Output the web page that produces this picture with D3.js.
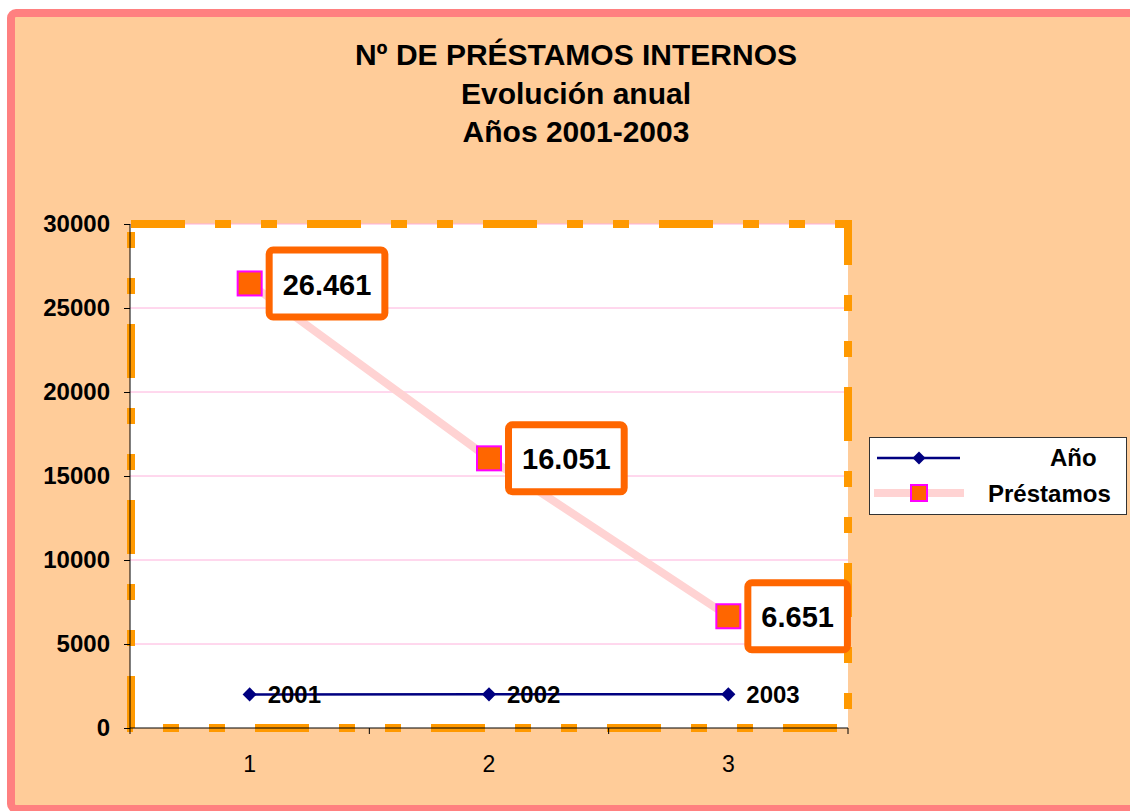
<!DOCTYPE html>
<html>
<head>
<meta charset="utf-8">
<title>Préstamos internos</title>
<script src="https://cdn.jsdelivr.net/npm/d3@7/dist/d3.min.js"></script>
<style>
  body { margin: 0; background: #fff; }
  svg text { font-family: "Liberation Sans", Arial, sans-serif; }
</style>
</head>
<body>
<script>
// data
var categories = [1, 2, 3];
var anio = [2001, 2002, 2003];
var prestamos = [26461, 16051, 6651];
var prestamosLabels = ["26.461", "16.051", "6.651"];
var yTicks = [0, 5000, 10000, 15000, 20000, 25000, 30000];
var titleLines = ["Nº DE PRÉSTAMOS INTERNOS", "Evolución anual", "Años 2001-2003"];
var seriesNames = ["Año", "Préstamos"];

var width = 1130, height = 811;
var plot = {left: 130, top: 224, right: 848, bottom: 728};

var svg = d3.select("body").append("svg")
    .attr("width", width)
    .attr("height", height);

// chart area background + pink frame
svg.append("rect")
    .attr("x", 11).attr("y", 13)
    .attr("width", width + 20).attr("height", 796)
    .attr("rx", 5)
    .attr("fill", "#ffcc99")
    .attr("stroke", "#ff8080")
    .attr("stroke-width", 8);

// title
svg.append("g").selectAll("text")
    .data(titleLines)
    .enter().append("text")
    .attr("x", 576)
    .attr("y", function (d, i) { return 65 + i * 38.5; })
    .attr("text-anchor", "middle")
    .attr("font-size", 30)
    .attr("font-weight", "bold")
    .text(function (d) { return d; });

var x = d3.scaleBand().domain(categories).range([plot.left, plot.right]).padding(0);
var y = d3.scaleLinear().domain([0, 30000]).range([plot.bottom, plot.top]);
function cx(d) { return x(d) + x.bandwidth() / 2; }

// plot area
svg.append("rect")
    .attr("x", plot.left).attr("y", plot.top)
    .attr("width", plot.right - plot.left)
    .attr("height", plot.bottom - plot.top)
    .attr("fill", "#ffffff");

// grid lines
svg.append("g").selectAll("line")
    .data(yTicks.filter(function (t) { return t > 0; }))
    .enter().append("line")
    .attr("x1", plot.left).attr("x2", plot.right)
    .attr("y1", function (d) { return y(d); })
    .attr("y2", function (d) { return y(d); })
    .attr("stroke", "#ffb0dc")
    .attr("stroke-width", 1);

// dashed orange frame round plot area
svg.append("rect")
    .attr("x", plot.left + 1).attr("y", plot.top)
    .attr("width", plot.right - plot.left - 1)
    .attr("height", plot.bottom - plot.top)
    .attr("fill", "none")
    .attr("stroke", "#ff9900")
    .attr("stroke-width", 8)
    .attr("stroke-dasharray", "54,30,16,30,16,30");

// axes
var yAxis = d3.axisLeft(y).tickValues(yTicks).tickFormat(d3.format("d")).tickSize(6).tickPadding(14);
var gy = svg.append("g")
    .attr("transform", "translate(" + plot.left + ",0)")
    .call(yAxis);
gy.selectAll("text")
    .attr("font-size", 24)
    .attr("font-weight", "bold")
    .attr("fill", "#000");
gy.selectAll("line, path").attr("stroke", "#000");
gy.select(".domain").attr("d", "M0," + plot.top + "V" + plot.bottom);

var xAxis = d3.axisBottom(x).tickSize(0).tickPadding(28);
var gx = svg.append("g")
    .attr("transform", "translate(0," + plot.bottom + ")")
    .call(xAxis);
gx.selectAll("text")
    .attr("font-size", 23)
    .attr("fill", "#000");
gx.select(".domain").attr("stroke", "#000").attr("d", "M" + plot.left + ",0H" + plot.right);
// category boundary ticks
gx.selectAll("line.bound")
    .data(categories.concat(["end"]))
    .enter().append("line")
    .attr("class", "bound")
    .attr("x1", function (d) { return d === "end" ? plot.right : x(d); })
    .attr("x2", function (d) { return d === "end" ? plot.right : x(d); })
    .attr("y1", 0).attr("y2", 6)
    .attr("stroke", "#000");

// Préstamos line
var line = d3.line()
    .x(function (d, i) { return cx(categories[i]); })
    .y(function (d) { return y(d); });

svg.append("path")
    .datum(prestamos)
    .attr("d", line)
    .attr("fill", "none")
    .attr("stroke", "#ffd3d3")
    .attr("stroke-width", 8);

// Año line
svg.append("path")
    .datum(anio)
    .attr("d", line)
    .attr("fill", "none")
    .attr("stroke", "#000080")
    .attr("stroke-width", 2.5);

var diamond = d3.symbol().type(d3.symbolSquare).size(100);

svg.append("g").selectAll("path")
    .data(anio)
    .enter().append("path")
    .attr("d", diamond)
    .attr("transform", function (d, i) {
        return "translate(" + cx(categories[i]) + "," + y(d) + ") rotate(45)";
    })
    .attr("fill", "#000080");

svg.append("g").selectAll("text")
    .data(anio)
    .enter().append("text")
    .attr("x", function (d, i) { return cx(categories[i]) + 18; })
    .attr("y", function (d) { return y(d); })
    .attr("dy", "0.35em")
    .attr("font-size", 24)
    .attr("font-weight", "bold")
    .text(function (d) { return d; });

// Préstamos markers
svg.append("g").selectAll("rect")
    .data(prestamos)
    .enter().append("rect")
    .attr("x", function (d, i) { return cx(categories[i]) - 12; })
    .attr("y", function (d) { return y(d) - 12; })
    .attr("width", 24).attr("height", 24)
    .attr("fill", "#ff6600")
    .attr("stroke", "#ff00ff")
    .attr("stroke-width", 2);

// boxed value labels
var labels = svg.append("g").selectAll("g")
    .data(prestamos)
    .enter().append("g");

labels.append("rect");
labels.append("text")
    .attr("font-size", 29)
    .attr("font-weight", "bold")
    .attr("text-anchor", "middle")
    .attr("dy", "0.35em")
    .text(function (d, i) { return prestamosLabels[i]; });

labels.each(function (d, i) {
    var g = d3.select(this);
    var tw = g.select("text").node().getComputedTextLength();
    var bw = tw + 27, bh = 67;
    var left = cx(categories[i]) + 19.5;
    g.select("rect")
        .attr("x", left).attr("y", y(d) - bh / 2)
        .attr("width", bw).attr("height", bh)
        .attr("rx", 4)
        .attr("fill", "#fff")
        .attr("stroke", "#ff6600")
        .attr("stroke-width", 7);
    g.select("text")
        .attr("x", left + bw / 2)
        .attr("y", y(d) + 1);
});

// legend
var legend = svg.append("g");
legend.append("rect")
    .attr("x", 869.5).attr("y", 437.5)
    .attr("width", 257).attr("height", 77)
    .attr("fill", "#fff")
    .attr("stroke", "#333")
    .attr("stroke-width", 1);

legend.append("line")
    .attr("x1", 877).attr("x2", 960)
    .attr("y1", 458).attr("y2", 458)
    .attr("stroke", "#000080").attr("stroke-width", 2.5);
legend.append("path")
    .attr("d", d3.symbol().type(d3.symbolSquare).size(85))
    .attr("transform", "translate(919,458) rotate(45)")
    .attr("fill", "#000080");

legend.append("line")
    .attr("x1", 874).attr("x2", 964)
    .attr("y1", 493).attr("y2", 493)
    .attr("stroke", "#ffd3d3").attr("stroke-width", 8);
legend.append("rect")
    .attr("x", 911).attr("y", 485)
    .attr("width", 16).attr("height", 16)
    .attr("fill", "#ff6600")
    .attr("stroke", "#ff00ff").attr("stroke-width", 2);

legend.selectAll("text")
    .data(seriesNames)
    .enter().append("text")
    .attr("x", function (d, i) { return i === 0 ? 1050 : 988; })
    .attr("y", function (d, i) { return 458 + i * 36; })
    .attr("dy", "0.35em")
    .attr("font-size", 24)
    .attr("font-weight", "bold")
    .text(function (d) { return d; });
</script>
</body>
</html>
